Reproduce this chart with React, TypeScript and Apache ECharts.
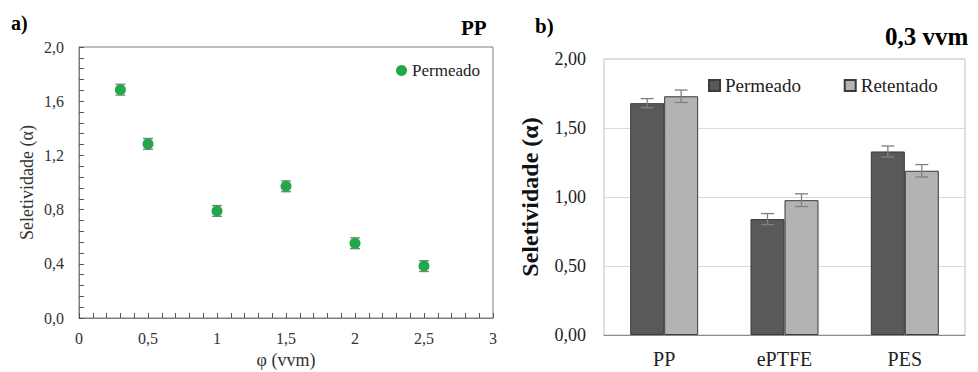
import React, { useEffect, useRef } from "react";
import * as echarts from "echarts";

const phi = [0.3, 0.5, 1, 1.5, 2, 2.5];
const selPerm = [1.685, 1.285, 0.79, 0.972, 0.552, 0.383];
const selPermErr = [0.04, 0.04, 0.04, 0.04, 0.04, 0.04];

const membranes = ["PP", "ePTFE", "PES"];
const barPerm = [1.68, 0.84, 1.33];
const barPermErr = [0.033, 0.04, 0.04];
const barRet = [1.73, 0.977, 1.19];
const barRetErr = [0.045, 0.046, 0.045];

const xTicksLeft = { min: 0, max: 3, interval: 0.5 };
const yTicksLeft = { min: 0, max: 2, interval: 0.4 };
const yTicksRight = { min: 0, max: 2, interval: 0.5 };

const FONT = "'Liberation Serif', 'Times New Roman', serif";

function fmt(v: number, d: number) {
  return v.toFixed(d).replace(".", ",");
}

export default function App() {
  const ref = useRef<HTMLDivElement>(null);
  useEffect(() => {
    if (!ref.current) return;
    document.body.style.margin = "0";
    const chart = echarts.init(ref.current, undefined, { renderer: "svg" });
    const errColor = "#7f7f7f";

    const scatterErr = phi.map((x, i) => [x, selPerm[i] - selPermErr[i], selPerm[i] + selPermErr[i]]);
    const permErr = barPerm.map((v, i) => [i, v - barPermErr[i], v + barPermErr[i]]);
    const retErr = barRet.map((v, i) => [i, v - barRetErr[i], v + barRetErr[i]]);

    const errRender = (offset: number, cap: number) => (params: any, api: any) => {
      const x = api.value(0);
      const lo = api.coord([x, api.value(1)]);
      const hi = api.coord([x, api.value(2)]);
      const cx = lo[0] + offset;
      const st = { stroke: errColor, lineWidth: 1.3 };
      return {
        type: "group",
        children: [
          { type: "line", shape: { x1: cx, y1: lo[1], x2: cx, y2: hi[1] }, style: st },
          { type: "line", shape: { x1: cx - cap, y1: lo[1], x2: cx + cap, y2: lo[1] }, style: st },
          { type: "line", shape: { x1: cx - cap, y1: hi[1], x2: cx + cap, y2: hi[1] }, style: st },
        ],
      };
    };

    chart.setOption({
      animation: false,
      textStyle: { fontFamily: FONT },
      title: [
        { text: "a)", left: 6, top: 8, textStyle: { fontFamily: FONT, fontSize: 20, fontWeight: "bold", color: "#000" } },
        { text: "PP", left: 456, top: 12, textStyle: { fontFamily: FONT, fontSize: 21, fontWeight: "bold", color: "#000" } },
        { text: "b)", left: 530, top: 10, textStyle: { fontFamily: FONT, fontSize: 21, fontWeight: "bold", color: "#000" } },
        { text: "0,3 vvm", left: 880, top: 19, textStyle: { fontFamily: FONT, fontSize: 25, fontWeight: "bold", color: "#000" } },
      ],
      legend: [
        {
          data: [{ name: "Permeado", icon: "circle" }],
          left: 391,
          top: 57,
          itemWidth: 11,
          itemHeight: 11,
          textStyle: { fontFamily: FONT, fontSize: 17, color: "#222" },
        },
        {
          data: [{ name: "Permeado " }, { name: "Retentado" }],
          left: 703,
          top: 71,
          icon: "rect",
          itemWidth: 11,
          itemHeight: 11,
          itemGap: 38,
          textStyle: { fontFamily: FONT, fontSize: 19, color: "#222" },
        },
      ],
      grid: [
        { left: 79, top: 47, width: 414, height: 271, show: true, borderColor: "#7f7f7f", borderWidth: 1, outerBoundsMode: "none", containLabel: false },
        { left: 604, top: 59, width: 361, height: 276, show: true, borderColor: "#bfbfbf", borderWidth: 1, outerBoundsMode: "none", containLabel: false },
      ],
      xAxis: [
        {
          type: "value",
          gridIndex: 0,
          min: xTicksLeft.min,
          max: xTicksLeft.max,
          interval: xTicksLeft.interval,
          name: "φ (vvm)",
          nameLocation: "middle",
          nameGap: 33,
          nameTextStyle: { fontFamily: FONT, fontSize: 18, color: "#333" },
          axisLine: { lineStyle: { color: "#7f7f7f" } },
          axisTick: { inside: true, length: 5, lineStyle: { color: "#555" } },
          minorTick: { show: true, splitNumber: 5, length: 5, lineStyle: { color: "#555" } },
          splitLine: { show: false },
          axisLabel: { fontFamily: FONT, fontSize: 16, color: "#333", margin: 12, formatter: (v: number) => fmt(v, v % 1 === 0 ? 0 : 1) },
        },
        {
          type: "category",
          gridIndex: 1,
          data: membranes,
          axisLine: { lineStyle: { color: "#8c8c8c" } },
          axisTick: { show: false },
          axisLabel: { fontFamily: FONT, fontSize: 20, color: "#222", margin: 14 },
        },
      ],
      yAxis: [
        {
          type: "value",
          gridIndex: 0,
          min: yTicksLeft.min,
          max: yTicksLeft.max,
          interval: yTicksLeft.interval,
          name: "Seletividade (α)",
          nameLocation: "middle",
          nameGap: 43,
          nameTextStyle: { fontFamily: FONT, fontSize: 18, color: "#333" },
          axisLine: { show: true, lineStyle: { color: "#7f7f7f" } },
          axisTick: { show: true, inside: true, length: 5, lineStyle: { color: "#555" } },
          minorTick: { show: true, splitNumber: 5, length: 5, lineStyle: { color: "#555" } },
          splitLine: { show: false },
          axisLabel: { fontFamily: FONT, fontSize: 16, color: "#333", margin: 15, formatter: (v: number) => fmt(v, 1) },
        },
        {
          type: "value",
          gridIndex: 1,
          min: yTicksRight.min,
          max: yTicksRight.max,
          interval: yTicksRight.interval,
          name: "Seletividade (α)",
          nameLocation: "middle",
          nameGap: 62,
          nameTextStyle: { fontFamily: FONT, fontSize: 24, fontWeight: "bold", color: "#111" },
          axisLine: { show: false },
          axisTick: { show: false },
          splitLine: { lineStyle: { color: "#d9d9d9" } },
          axisLabel: { fontFamily: FONT, fontSize: 18, color: "#222", margin: 18, formatter: (v: number) => fmt(v, 2) },
        },
      ],
      series: [
        {
          type: "custom",
          xAxisIndex: 0,
          yAxisIndex: 0,
          data: scatterErr,
          encode: { x: 0, y: [1, 2] },
          renderItem: errRender(0, 5),
          silent: true,
          z: 1,
        },
        {
          name: "Permeado",
          type: "scatter",
          xAxisIndex: 0,
          yAxisIndex: 0,
          data: phi.map((x, i) => [x, selPerm[i]]),
          symbol: "circle",
          symbolSize: 11,
          itemStyle: { color: "#22a84a", opacity: 1 },
          z: 3,
        },
        {
          name: "Permeado ",
          type: "bar",
          xAxisIndex: 1,
          yAxisIndex: 1,
          data: barPerm,
          barWidth: 34,
          barGap: "0%",
          itemStyle: { color: "#595959", borderColor: "#3a3a3a", borderWidth: 1 },
        },
        {
          name: "Retentado",
          type: "bar",
          xAxisIndex: 1,
          yAxisIndex: 1,
          data: barRet,
          barWidth: 34,
          barGap: "0%",
          itemStyle: { color: "#b3b3b3", borderColor: "#3a3a3a", borderWidth: 1 },
        },
        {
          type: "custom",
          xAxisIndex: 1,
          yAxisIndex: 1,
          data: permErr,
          encode: { x: 0, y: [1, 2] },
          renderItem: errRender(-17, 6.5),
          silent: true,
          z: 5,
        },
        {
          type: "custom",
          xAxisIndex: 1,
          yAxisIndex: 1,
          data: retErr,
          encode: { x: 0, y: [1, 2] },
          renderItem: errRender(17, 6.5),
          silent: true,
          z: 5,
        },
      ],
    });
    return () => chart.dispose();
  }, []);
  return <div ref={ref} style={{ width: 978, height: 372 }} />;
}
